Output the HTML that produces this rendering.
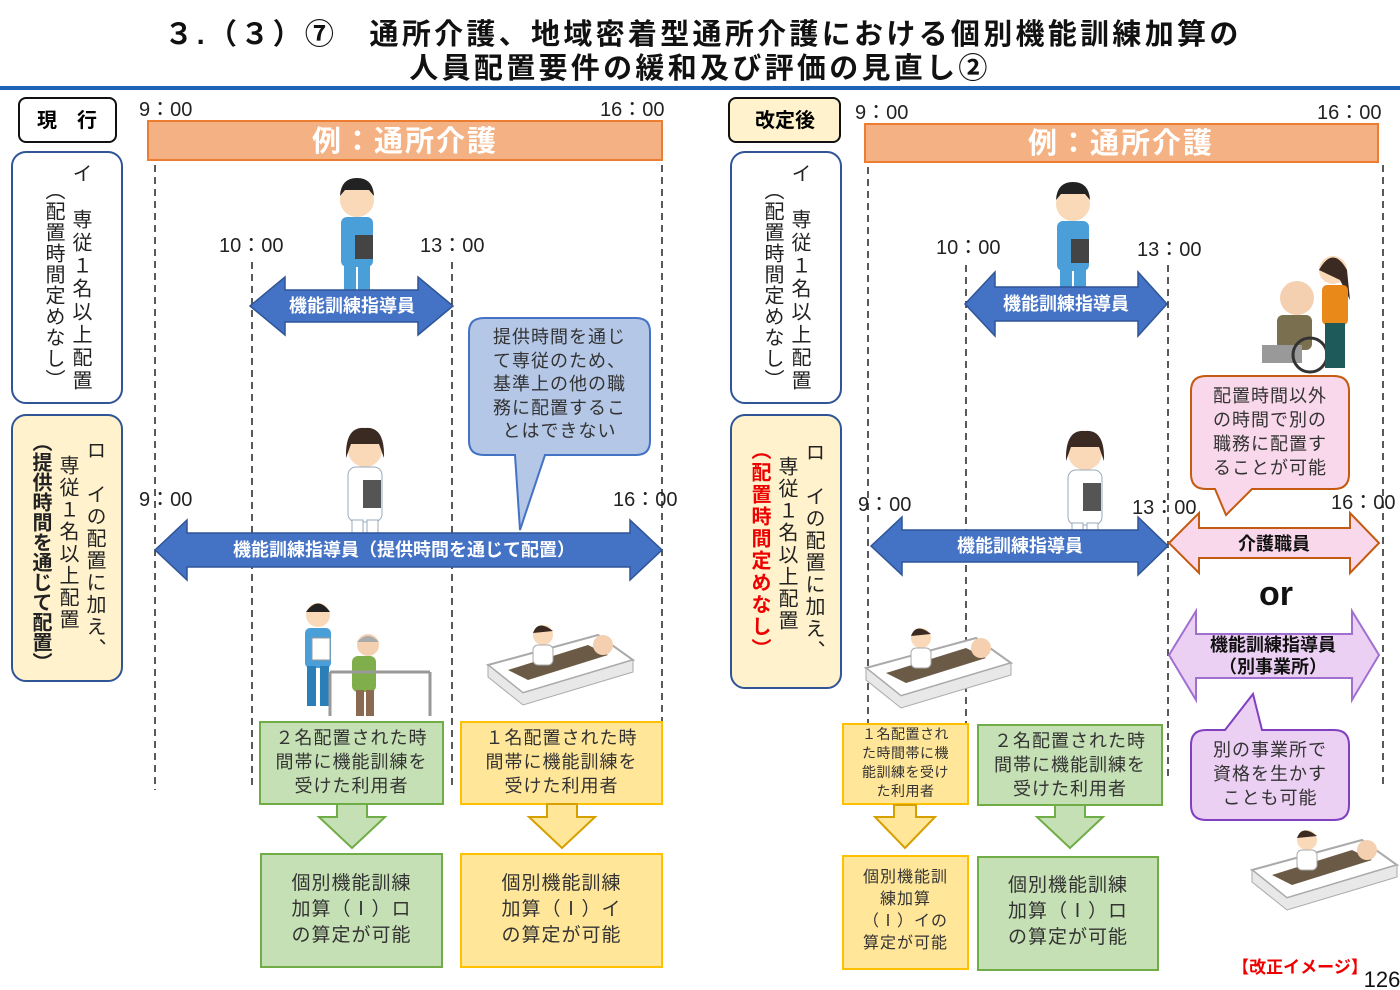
<!DOCTYPE html>
<html><head><meta charset="utf-8"><style>
body{margin:0;width:1400px;height:990px;background:#fff;position:relative;overflow:hidden;font-family:"Liberation Sans","Noto Sans CJK JP",sans-serif;}
.a{position:absolute;}
.v{position:absolute;writing-mode:vertical-rl;font-size:20px;line-height:26px;color:#222;letter-spacing:2px;white-space:nowrap;}
.t{position:absolute;text-align:center;color:#333;white-space:nowrap;letter-spacing:1px;}
</style></head><body>
<svg class="a" style="left:0;top:0" width="1400" height="990" viewBox="0 0 1400 990">
<defs>
<g id="man"><circle cx="0" cy="0" r="17" fill="#f9d9b8"/><path d="M-17,-4 Q-16,-22 0,-22 Q16,-22 17,-4 L12,-10 L-12,-10Z" fill="#222"/><rect x="-16" y="17" width="32" height="50" rx="6" fill="#4a9fd8"/><rect x="-13" y="65" width="12" height="35" fill="#4a9fd8"/><rect x="1" y="65" width="12" height="35" fill="#4a9fd8"/><rect x="-2" y="35" width="18" height="24" fill="#444"/></g>
<g id="nurse"><circle cx="0" cy="0" r="17" fill="#f9d9b8"/><path d="M-19,8 Q-20,-24 0,-22 Q20,-24 19,8 L14,-6 L-14,-6Z" fill="#3a2a22"/><rect x="-17" y="17" width="34" height="55" rx="8" fill="#fff" stroke="#9ab"/><rect x="-2" y="30" width="18" height="28" fill="#555"/><rect x="-13" y="70" width="11" height="38" fill="#fff" stroke="#9ab"/><rect x="2" y="70" width="11" height="38" fill="#fff" stroke="#9ab"/></g>
<g id="bed"><path d="M0,40 L110,10 L145,35 L35,68Z" fill="#fff" stroke="#aaa" stroke-width="2"/><path d="M0,40 L0,52 L35,80 L145,47 L145,35 L35,68Z" fill="#e8e8e8" stroke="#aaa"/><path d="M20,45 L100,20 L120,30 L40,55Z" fill="#6b5a45"/><circle cx="115" cy="20" r="10" fill="#f4d0b0"/><circle cx="55" cy="10" r="10" fill="#f9d9b8"/><path d="M45,8 Q50,-6 65,6Z" fill="#3a2a22"/><rect x="45" y="20" width="20" height="20" rx="5" fill="#fff" stroke="#aaa"/></g>
</defs>
<rect x="0" y="86" width="1400" height="4" fill="#1f64b4"/>
<text x="703" y="44" text-anchor="middle" font-size="29" font-weight="bold" fill="#111" letter-spacing="3.3">３.（３）⑦　通所介護、地域密着型通所介護における個別機能訓練加算の</text>
<text x="700" y="78" text-anchor="middle" font-size="29" font-weight="bold" fill="#111" letter-spacing="3.3">人員配置要件の緩和及び評価の見直し②</text>
<rect x="19" y="98" width="97" height="44" rx="7" fill="#fff" stroke="#111" stroke-width="2"/>
<text x="67" y="127" text-anchor="middle" font-size="20" font-weight="bold">現　行</text>
<rect x="729" y="98" width="111" height="44" rx="7" fill="#fff2cc" stroke="#111" stroke-width="2"/>
<text x="785" y="127" text-anchor="middle" font-size="20" font-weight="bold">改定後</text>
<g font-size="20" fill="#222">
<text x="139" y="116">9：00</text><text x="600" y="116">16：00</text>
<text x="855" y="119">9：00</text><text x="1317" y="119">16：00</text>
<text x="219" y="252">10：00</text><text x="420" y="252">13：00</text>
<text x="936" y="254">10：00</text><text x="1137" y="256">13：00</text>
<text x="139" y="506">9：00</text><text x="613" y="506">16：00</text>
<text x="858" y="511">9：00</text><text x="1132" y="514">13：00</text><text x="1331" y="509">16：00</text>
</g>
<rect x="148" y="121" width="514" height="39" fill="#f4b183" stroke="#ed7d31" stroke-width="2"/>
<text x="405" y="151" text-anchor="middle" font-size="29" font-weight="bold" fill="#fff" letter-spacing="2">例：通所介護</text>
<rect x="865" y="124" width="513" height="38" fill="#f4b183" stroke="#ed7d31" stroke-width="2"/>
<text x="1121" y="153" text-anchor="middle" font-size="29" font-weight="bold" fill="#fff" letter-spacing="2">例：通所介護</text>
<rect x="12" y="152" width="110" height="251" rx="14" fill="#fff" stroke="#2f5597" stroke-width="2"/>
<rect x="12" y="415" width="110" height="266" rx="14" fill="#fff2cc" stroke="#2f5597" stroke-width="2"/>
<rect x="731" y="152" width="110" height="251" rx="14" fill="#fff" stroke="#2f5597" stroke-width="2"/>
<rect x="731" y="415" width="110" height="273" rx="14" fill="#fff2cc" stroke="#2f5597" stroke-width="2"/>
<g stroke="#222" stroke-width="1.5" stroke-dasharray="7,5">
<line x1="155" y1="165" x2="155" y2="790"/><line x1="662" y1="165" x2="662" y2="790"/>
<line x1="252" y1="262" x2="252" y2="790"/><line x1="452" y1="262" x2="452" y2="790"/>
<line x1="868" y1="167" x2="868" y2="790"/><line x1="966" y1="265" x2="966" y2="790"/>
<line x1="1168" y1="265" x2="1168" y2="780"/><line x1="1383" y1="165" x2="1383" y2="785"/>
</g>
<use href="#man" x="357" y="200"/><use href="#man" x="1073" y="204"/>
<use href="#nurse" x="365" y="450"/><use href="#nurse" x="1085" y="453"/>
<use href="#bed" x="488" y="625"/>
<use href="#bed" x="866" y="628"/>
<use href="#bed" x="1252" y="830"/>
<g><circle cx="318" cy="615" r="12" fill="#f9d9b8"/><path d="M306,612 Q318,595 330,612Z" fill="#222"/><rect x="305" y="628" width="26" height="40" rx="5" fill="#4a9fd8"/><rect x="307" y="666" width="9" height="40" fill="#2a7fb8"/><rect x="320" y="666" width="9" height="40" fill="#2a7fb8"/><rect x="312" y="638" width="18" height="22" fill="#fff" stroke="#999"/>
<circle cx="368" cy="645" r="11" fill="#f4d0b0"/><path d="M357,642 Q368,630 379,642Z" fill="#aaa"/><rect x="352" y="656" width="24" height="36" rx="6" fill="#7fae4a"/><rect x="356" y="690" width="8" height="26" fill="#8a6a50"/><rect x="366" y="690" width="8" height="26" fill="#8a6a50"/>
<path d="M330,672 L430,672 M330,672 L330,716 M430,672 L430,716" stroke="#999" stroke-width="3" fill="none"/></g>
<g><circle cx="1297" cy="298" r="17" fill="#f4d0b0"/><rect x="1277" y="315" width="35" height="35" rx="6" fill="#7a7050"/><rect x="1262" y="345" width="40" height="18" fill="#999"/><circle cx="1310" cy="355" r="17" fill="none" stroke="#333" stroke-width="3"/>
<circle cx="1333" cy="270" r="14" fill="#f9d9b8"/><path d="M1319,270 Q1333,245 1347,270 L1350,300 L1340,280Z" fill="#3a2a22"/><rect x="1322" y="285" width="26" height="40" rx="5" fill="#e8891a"/><rect x="1325" y="323" width="20" height="45" fill="#1e5a5a"/></g>
<g fill="#4472c4" stroke="#2f5597" stroke-width="1.5">
<path d="M250,306 L285,277 L285,290 L418,290 L418,277 L453,306 L418,335 L418,322 L285,322 L285,335Z"/>
<path d="M155,550 L187,520 L187,533 L630,533 L630,520 L662,550 L630,580 L630,567 L187,567 L187,580Z"/>
<path d="M965,304 L995,272 L995,287 L1138,287 L1138,272 L1167,304 L1138,336 L1138,321 L995,321 L995,336Z"/>
<path d="M871,546 L902,517 L902,530 L1138,530 L1138,517 L1168,546 L1138,575 L1138,562 L902,562 L902,575Z"/>
</g>
<g font-size="18" font-weight="bold" fill="#fff" text-anchor="middle">
<text x="352" y="312">機能訓練指導員</text>
<text x="404" y="556">機能訓練指導員（提供時間を通じて配置）</text>
<text x="1066" y="310">機能訓練指導員</text>
<text x="1020" y="552">機能訓練指導員</text>
</g>
<path d="M1169,543 L1199,513 L1199,528 L1350,528 L1350,513 L1379,543 L1350,573 L1350,558 L1199,558 L1199,573Z" fill="#f8d8ea" stroke="#c55a11" stroke-width="2"/>
<text x="1274" y="550" text-anchor="middle" font-size="18" font-weight="bold" fill="#111">介護職員</text>
<text x="1276" y="605" text-anchor="middle" font-size="34" font-weight="bold" fill="#111">or</text>
<path d="M1169,655 L1196,611 L1196,634 L1352,634 L1352,611 L1379,655 L1352,700 L1352,678 L1196,678 L1196,700Z" fill="#ecd0f4" stroke="#a070d0" stroke-width="2"/>
<text x="1273" y="651" text-anchor="middle" font-size="18" font-weight="bold" fill="#111">機能訓練指導員</text>
<text x="1273" y="673" text-anchor="middle" font-size="18" font-weight="bold" fill="#111">（別事業所）</text>
<path d="M484,318 L636,318 Q650,318 650,332 L650,441 Q650,455 636,455 L545,455 L520,530 L515,455 L484,455 Q469,455 469,441 L469,332 Q469,318 484,318Z" fill="#b4c7e7" stroke="#4472c4" stroke-width="2"/>
<path d="M1206,376 L1334,376 Q1349,376 1349,391 L1349,474 Q1349,489 1334,489 L1252,489 L1226,515 L1215,489 L1206,489 Q1191,489 1191,474 L1191,391 Q1191,376 1206,376Z" fill="#f8d8ea" stroke="#c55a11" stroke-width="2"/>
<path d="M1206,730 L1225,730 L1253,694 L1262,730 L1334,730 Q1349,730 1349,745 L1349,805 Q1349,820 1334,820 L1206,820 Q1191,820 1191,805 L1191,745 Q1191,730 1206,730Z" fill="#ecd0f4" stroke="#8040c0" stroke-width="2"/>
<g stroke-width="2">
<rect x="260" y="722" width="183" height="82" fill="#c5e0b4" stroke="#70ad47"/>
<rect x="461" y="722" width="201" height="82" fill="#ffe699" stroke="#ffc000"/>
<rect x="261" y="854" width="181" height="113" fill="#c5e0b4" stroke="#70ad47"/>
<rect x="461" y="854" width="201" height="113" fill="#ffe699" stroke="#ffc000"/>
<rect x="843" y="724" width="125" height="80" fill="#ffe699" stroke="#ffc000"/>
<rect x="978" y="725" width="184" height="80" fill="#c5e0b4" stroke="#70ad47"/>
<rect x="843" y="856" width="125" height="113" fill="#ffe699" stroke="#ffc000"/>
<rect x="978" y="857" width="180" height="113" fill="#c5e0b4" stroke="#70ad47"/>
<path d="M337,804 L367,804 L367,817 L385,817 L352,848 L319,817 L337,817Z" fill="#c5e0b4" stroke="#70ad47"/>
<path d="M547,804 L577,804 L577,817 L595,817 L562,848 L529,817 L547,817Z" fill="#ffe699" stroke="#d6a000"/>
<path d="M894,805 L916,805 L916,817 L935,817 L905,848 L875,817 L894,817Z" fill="#ffe699" stroke="#d6a000"/>
<path d="M1055,805 L1085,805 L1085,817 L1103,817 L1070,848 L1037,817 L1055,817Z" fill="#c5e0b4" stroke="#70ad47"/>
</g>
<text x="1300" y="973" text-anchor="middle" font-size="17" font-weight="bold" fill="#e00">【改正イメージ】</text>
<text x="1382" y="987" text-anchor="middle" font-size="22" fill="#111">126</text>
</svg>
<div class="v" style="left:67px;top:163px;letter-spacing:3px;">イ　専従１名以上配置</div>
<div class="v" style="left:40px;top:180px;letter-spacing:1px;">（配置時間定めなし）</div>
<div class="v" style="left:81px;top:440px;">ロ　イの配置に加え、</div>
<div class="v" style="left:54px;top:455px;">専従１名以上配置</div>
<div class="v" style="left:27px;top:432px;font-weight:bold;letter-spacing:0;">（提供時間を通じて配置）</div>
<div class="v" style="left:786px;top:163px;letter-spacing:3px;">イ　専従１名以上配置</div>
<div class="v" style="left:759px;top:180px;letter-spacing:1px;">（配置時間定めなし）</div>
<div class="v" style="left:800px;top:442px;">ロ　イの配置に加え、</div>
<div class="v" style="left:773px;top:456px;">専従１名以上配置</div>
<div class="v" style="left:746px;top:440px;font-weight:bold;color:#e00;">（配置時間定めなし）</div>
<div class="t" style="left:469px;top:326px;width:181px;font-size:18px;line-height:23.5px;">提供時間を通じ<br>て専従のため、<br>基準上の他の職<br>務に配置するこ<br>とはできない</div>
<div class="t" style="left:1191px;top:384px;width:158px;font-size:18px;line-height:24px;">配置時間以外<br>の時間で別の<br>職務に配置す<br>ることが可能</div>
<div class="t" style="left:1191px;top:738px;width:158px;font-size:18px;line-height:24px;">別の事業所で<br>資格を生かす<br>ことも可能</div>
<div class="t" style="left:260px;top:726px;width:183px;font-size:18px;line-height:24px;">２名配置された時<br>間帯に機能訓練を<br>受けた利用者</div>
<div class="t" style="left:461px;top:726px;width:201px;font-size:18px;line-height:24px;">１名配置された時<br>間帯に機能訓練を<br>受けた利用者</div>
<div class="t" style="left:261px;top:871px;width:181px;font-size:19px;line-height:26px;">個別機能訓練<br>加算（Ⅰ）ロ<br>の算定が可能</div>
<div class="t" style="left:461px;top:871px;width:201px;font-size:19px;line-height:26px;">個別機能訓練<br>加算（Ⅰ）イ<br>の算定が可能</div>
<div class="t" style="left:843px;top:725px;width:125px;font-size:14px;line-height:19px;letter-spacing:0.5px;">１名配置され<br>た時間帯に機<br>能訓練を受け<br>た利用者</div>
<div class="t" style="left:978px;top:729px;width:184px;font-size:18px;line-height:24px;">２名配置された時<br>間帯に機能訓練を<br>受けた利用者</div>
<div class="t" style="left:843px;top:867px;width:125px;font-size:16px;line-height:22px;">個別機能訓<br>練加算<br>（Ⅰ）イの<br>算定が可能</div>
<div class="t" style="left:978px;top:873px;width:180px;font-size:19px;line-height:26px;">個別機能訓練<br>加算（Ⅰ）ロ<br>の算定が可能</div>
</body></html>
